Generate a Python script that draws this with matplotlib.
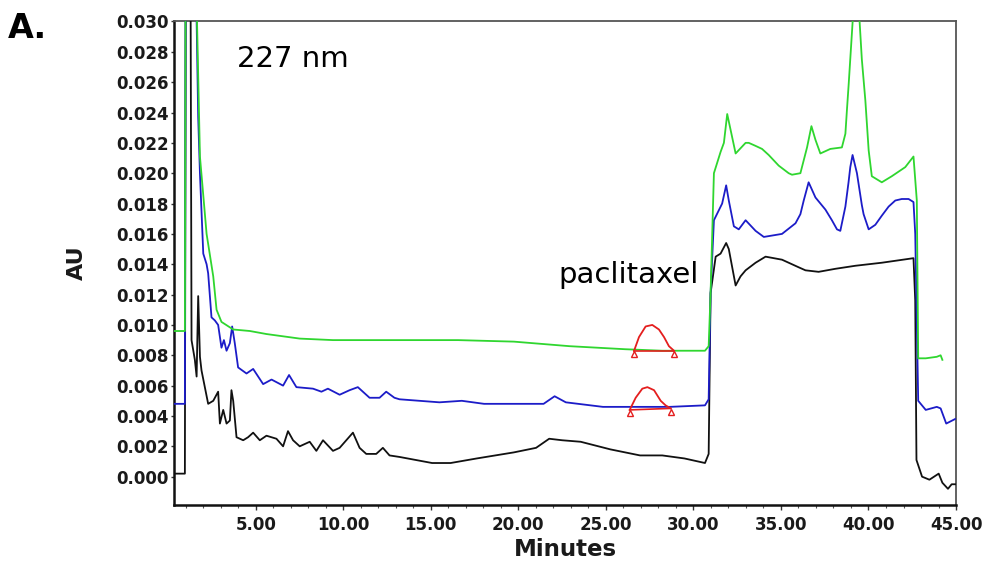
import numpy as np
import matplotlib
matplotlib.use("Agg")
import matplotlib.pyplot as plt
from matplotlib.ticker import MultipleLocator, FormatStrFormatter
import matplotlib.transforms as mtransforms

# ---------------- data (minutes, AU) ----------------
black_t = [0.38, 0.95, 1.04, 1.21, 1.33, 1.52, 1.62, 1.71, 1.81, 1.90, 2.09, 2.28, 2.57, 2.85, 2.95,
           3.14, 3.33, 3.52, 3.61, 3.71, 3.90, 4.28, 4.56, 4.85, 5.23, 5.61, 6.18, 6.56, 6.84, 7.13,
           7.51, 8.08, 8.46, 8.84, 9.41, 9.79, 10.17, 10.55, 10.93, 11.31, 11.88, 12.26, 12.64, 13.21,
           15.07, 16.13, 17.62, 19.74, 21.01, 21.76, 22.50, 23.56, 25.25, 26.95, 28.22, 29.49, 30.66,
           30.87, 30.98, 31.27, 31.55, 31.87, 32.02, 32.41, 32.69, 32.98, 33.55, 34.12, 35.06, 36.01,
           36.40, 37.15, 38.11, 39.25, 40.76, 42.57, 42.67, 42.74, 43.06, 43.48, 44.01, 44.22, 44.54,
           44.75, 44.95]
black_v = [0.0002, 0.0002, 0.060, 0.060, 0.0090, 0.0077, 0.0066, 0.0119, 0.0079, 0.0070, 0.0059, 0.0048,
           0.0050, 0.0056, 0.0035, 0.0044, 0.0035, 0.0037, 0.0057, 0.0050, 0.0026, 0.0024, 0.0026,
           0.0029, 0.0024, 0.0027, 0.0025, 0.0020, 0.0030, 0.0024, 0.0020, 0.0023, 0.0017, 0.0024,
           0.0017, 0.0019, 0.0024, 0.0029, 0.0019, 0.0015, 0.0015, 0.0019, 0.0014, 0.0013, 0.0009,
           0.0009, 0.0012, 0.0016, 0.0019, 0.0025, 0.0024, 0.0023, 0.0018, 0.0014, 0.0014, 0.0012,
           0.0009, 0.0015, 0.0121, 0.0145, 0.0147, 0.0154, 0.0150, 0.0126, 0.0132, 0.0136, 0.0141,
           0.0145, 0.0143, 0.0138, 0.0136, 0.0135, 0.0137, 0.0139, 0.0141, 0.0144, 0.0116, 0.0011,
           0.0000, -0.0002, 0.0002, -0.0004, -0.0008, -0.0005, -0.0005]

blue_t = [0.38, 0.95, 1.02, 1.45, 1.62, 1.71, 1.81, 2.00, 2.19, 2.28, 2.47, 2.66, 2.85, 3.04, 3.18,
          3.33, 3.52, 3.65, 3.80, 3.99, 4.47, 4.85, 5.42, 5.90, 6.56, 6.90, 7.32, 8.27, 8.75, 9.12,
          9.79, 10.36, 10.83, 11.50, 12.07, 12.45, 12.92, 13.21, 15.49, 16.77, 18.04, 21.44, 22.07,
          22.71, 24.83, 26.52, 28.64, 30.66, 30.87, 30.98, 31.17, 31.64, 31.87, 32.02, 32.31, 32.59,
          32.98, 33.55, 34.02, 35.06, 35.83, 36.11, 36.30, 36.58, 36.97, 37.54, 37.91, 38.20, 38.39,
          38.68, 38.86, 38.96, 39.09, 39.34, 39.62, 39.72, 40.01, 40.39, 40.76, 41.15, 41.53, 41.90,
          42.29, 42.57, 42.67, 42.84, 43.27, 43.90, 44.12, 44.44, 44.95]
blue_v = [0.0048, 0.0048, 0.050, 0.045, 0.0301, 0.0237, 0.0200, 0.0147, 0.0140, 0.0134, 0.0105, 0.0103,
          0.0100, 0.0085, 0.0090, 0.0083, 0.0088, 0.0099, 0.0088, 0.0072, 0.0068, 0.0071, 0.0061,
          0.0064, 0.0060, 0.0067, 0.0059, 0.0058, 0.0056, 0.0058, 0.0054, 0.0057, 0.0059, 0.0052,
          0.0052, 0.0056, 0.0052, 0.0051, 0.0049, 0.0050, 0.0048, 0.0048, 0.0053, 0.0049, 0.0046,
          0.0046, 0.0046, 0.0047, 0.0051, 0.0121, 0.0169, 0.0180, 0.0192, 0.0182, 0.0165, 0.0163,
          0.0169, 0.0162, 0.0158, 0.0160, 0.0167, 0.0173, 0.0182, 0.0194, 0.0184, 0.0176, 0.0169,
          0.0163, 0.0162, 0.0178, 0.0194, 0.0204, 0.0212, 0.0200, 0.0179, 0.0173, 0.0163, 0.0166,
          0.0172, 0.0178, 0.0182, 0.0183, 0.0183, 0.0181, 0.0160, 0.0050, 0.0044, 0.0046, 0.0045,
          0.0035, 0.0038]

green_t = [0.38, 0.95, 1.01, 1.55, 1.81, 2.19, 2.57, 2.76, 3.04, 3.71, 4.66, 5.61, 7.51, 9.41, 13.21,
           16.56, 19.74, 22.92, 26.09, 28.22, 30.66, 30.87, 30.98, 31.17, 31.55, 31.74, 31.93, 32.41,
           32.98, 33.16, 33.55, 33.92, 34.30, 34.87, 35.44, 35.63, 36.11, 36.49, 36.74, 36.97, 37.25,
           37.82, 38.48, 38.68, 38.77, 38.87, 39.15, 39.30, 39.44, 39.62, 39.82, 40.01, 40.19, 40.76,
           41.33, 42.10, 42.57, 42.76, 42.84, 43.27, 43.90, 44.12, 44.22]
green_v = [0.0096, 0.0096, 0.045, 0.035, 0.0211, 0.0160, 0.0132, 0.0110, 0.0102, 0.0097, 0.0096, 0.0094,
           0.0091, 0.0090, 0.0090, 0.0090, 0.0089, 0.0086, 0.0084, 0.0083, 0.0083, 0.0086, 0.0121,
           0.0200, 0.0214, 0.0220, 0.0239, 0.0213, 0.0220, 0.0220, 0.0218, 0.0216, 0.0212, 0.0205,
           0.0200, 0.0199, 0.0200, 0.0217, 0.0231, 0.0222, 0.0213, 0.0216, 0.0217, 0.0226, 0.0242,
           0.0259, 0.0310, 0.0318, 0.0310, 0.0275, 0.0248, 0.0215, 0.0198, 0.0194, 0.0198, 0.0204,
           0.0211, 0.0182, 0.0078, 0.0078, 0.0079, 0.0080, 0.0077]

# integrated paclitaxel peaks (red)
peak_green_t = [26.61, 26.89, 27.27, 27.65, 28.03, 28.32, 28.60, 28.89]
peak_green_v = [0.0083, 0.0092, 0.0099, 0.0100, 0.0097, 0.0092, 0.0086, 0.0083]
peak_blue_t = [26.36, 26.70, 27.08, 27.37, 27.75, 28.13, 28.41, 28.70]
peak_blue_v = [0.0044, 0.0052, 0.0058, 0.0059, 0.0057, 0.0050, 0.0047, 0.0045]

x_ticks = [5, 10, 15, 20, 25, 30, 35, 40, 45]
y_ticks = [0.000, 0.002, 0.004, 0.006, 0.008, 0.010, 0.012, 0.014, 0.016, 0.018,
           0.020, 0.022, 0.024, 0.026, 0.028, 0.030]

# ---------------- figure ----------------
plt.rcParams['font.family'] = ['DejaVu Sans']
fig = plt.figure(figsize=(9.86, 5.69), dpi=100)
ax = fig.add_axes([0.1765, 0.1116, 0.7931, 0.852])

GREEN = '#2fd62f'
BLUE = '#1c1cc8'
BLACK = '#111111'
RED = '#e41e1e'

ax.plot(black_t, black_v, color=BLACK, lw=1.3, zorder=3, solid_joinstyle='round')
ax.plot(blue_t, blue_v, color=BLUE, lw=1.3, zorder=4, solid_joinstyle='round')
ax.plot(green_t, green_v, color=GREEN, lw=1.3, zorder=5, solid_joinstyle='round')

off = mtransforms.offset_copy(ax.transData, fig=fig, x=0, y=-2.5, units='points')
for pt, pv in [(peak_green_t, peak_green_v), (peak_blue_t, peak_blue_v)]:
    ax.plot(pt, pv, color=RED, lw=1.3, zorder=6, solid_joinstyle='round')
    ax.plot([pt[0], pt[-1]], [pv[0], pv[-1]], color=RED, lw=1.2, zorder=6)
    ax.plot([pt[0], pt[-1]], [pv[0], pv[-1]], linestyle='none', marker='^', ms=5,
            mfc='none', mec=RED, mew=1.0, transform=off, zorder=7)

ax.set_xlim(0.33, 45.0)
ax.set_ylim(-0.0019, 0.03005)
ax.set_xticks(x_ticks)
ax.xaxis.set_minor_locator(MultipleLocator(1))
ax.set_yticks(y_ticks)
ax.xaxis.set_major_formatter(FormatStrFormatter('%.2f'))
ax.yaxis.set_major_formatter(FormatStrFormatter('%.3f'))

ax.tick_params(axis='both', which='major', direction='out', labelsize=12, width=1.0, color='#333333')
ax.tick_params(axis='x', which='major', length=3.5, pad=4)
ax.tick_params(axis='x', which='minor', length=2.5, width=0.8, color='#555555')
ax.tick_params(axis='y', which='major', length=2.5, pad=1.5)
for lab in ax.get_xticklabels() + ax.get_yticklabels():
    lab.set_fontweight('bold')
    lab.set_color('#1a1a1a')

for s in ['left', 'bottom']:
    ax.spines[s].set_linewidth(1.8)
    ax.spines[s].set_color('#111111')
for s in ['top', 'right']:
    ax.spines[s].set_linewidth(1.3)
    ax.spines[s].set_color('#555555')

ax.set_xlabel('Minutes', fontsize=16.5, fontweight='bold', color='#1a1a1a')
ax.xaxis.set_label_coords(0.5, -0.068)
ax.set_ylabel('AU', fontsize=16, fontweight='bold', color='#1a1a1a')
ax.yaxis.set_label_coords(-0.112, 0.5)

ax.text(0.0806, 0.905, '227 nm', transform=ax.transAxes, fontsize=21, va='baseline', ha='left')
ax.text(0.492, 0.458, 'paclitaxel', transform=ax.transAxes, fontsize=21, va='baseline', ha='left')
fig.text(0.008, 0.933, 'A.', fontsize=24, fontweight='bold', va='baseline', ha='left')

fig.savefig('out.png', dpi=100)
